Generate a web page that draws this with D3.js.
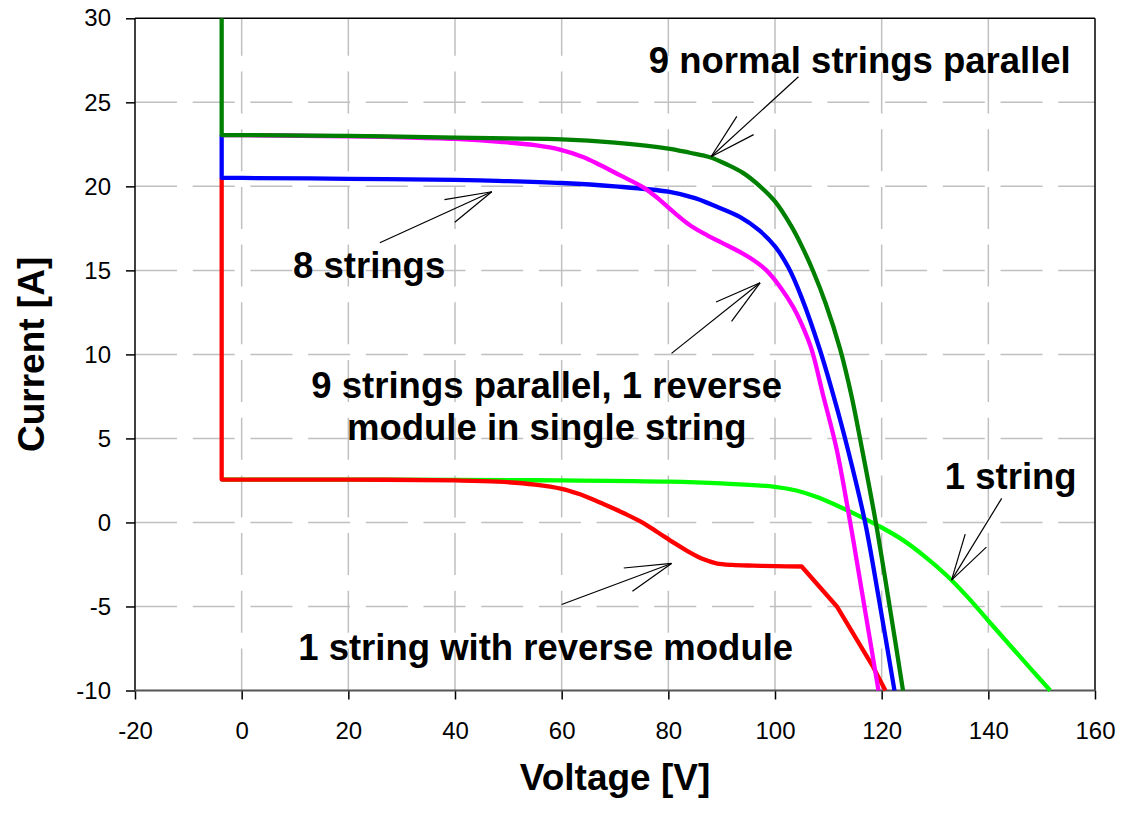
<!DOCTYPE html>
<html lang="en">
<head>
<meta charset="UTF-8">
<title>I-V curves</title>
<script src="https://d3js.org/d3.v7.min.js"></script>
<style>
    body { margin: 0; background: #fff; }
    svg { display: block; font-family: "Liberation Sans", Arial, sans-serif; }
    .tick text { font-size: 24px; fill: #000; }
    .tick line { stroke: #000; stroke-width: 1.5px; }
    .grid line { stroke: #c0c0c0; stroke-width: 1.5px; stroke-dasharray: 42 15.7; }
    .note { font-size: 36.5px; font-weight: bold; fill: #000; }
    .title { font-size: 37px; font-weight: bold; fill: #000; }
    .arrow line { stroke: #000; stroke-width: 1.2px; }
</style>
</head>
<body>
<div id="chart"></div>
<script>
    // axis ticks
    const xTicks = [-20, 0, 20, 40, 60, 80, 100, 120, 140, 160];
    const yTicks = [-10, -5, 0, 5, 10, 15, 20, 25, 30];

    // 1 string (light green)
    const v1String = [-3.75, 0, 20, 40, 60, 80, 90, 100, 104, 108, 112, 116, 120, 124, 128, 132, 136, 140, 145, 151.6];
    const i1String = [2.55, 2.55, 2.55, 2.53, 2.5, 2.43, 2.32, 2.12, 1.9, 1.5, 0.95, 0.35, -0.3, -1.05, -2.0, -3.1, -4.4, -5.85, -7.65, -10];

    // 1 string with reverse module (red)
    const vReverse = [-3.75, -3.75, 0, 20, 40, 48, 55, 60, 63, 66, 69, 72, 75, 78, 81, 84, 86.5, 89, 92, 96, 100, 105, 111.6, 118.4, 120.7];
    const iReverse = [20.5, 2.55, 2.55, 2.55, 2.5, 2.43, 2.25, 2.0, 1.72, 1.35, 0.93, 0.5, 0.02, -0.58, -1.2, -1.78, -2.18, -2.43, -2.53, -2.57, -2.6, -2.62, -5.0, -8.6, -10];

    // 8 strings (blue)
    const v8Strings = [-3.75, -3.75, 0, 20, 40, 48, 60, 70, 80, 85, 89, 93.4, 97, 100, 102.5, 105, 108.4, 111, 113.7, 116.9, 119.5, 122.4];
    const i8Strings = [23.05, 20.5, 20.5, 20.45, 20.38, 20.33, 20.2, 20.0, 19.68, 19.3, 18.8, 18.18, 17.39, 16.43, 15.18, 13.38, 10.29, 7.5, 4.3, 0, -4.6, -10];

    // 9 strings parallel, 1 reverse module in single string (magenta)
    const v9Reverse = [-3.75, 0, 20, 30, 40, 48.4, 55, 60, 64, 67.2, 71, 75.3, 78, 80.9, 84, 87.2, 90, 93.4, 96, 98.4, 101, 103.4, 105, 106.9, 109, 111.6, 114.1, 116.5, 119.4];
    const i9Reverse = [23.05, 23.05, 22.97, 22.92, 22.82, 22.65, 22.45, 22.16, 21.75, 21.27, 20.65, 19.94, 19.3, 18.49, 17.7, 17.1, 16.65, 16.1, 15.6, 15.0, 14.0, 12.83, 11.8, 10.26, 7.6, 4.3, 0, -4.5, -10];

    // 9 normal strings parallel (dark green)
    const v9Normal = [-3.75, -3.75, 0, 20, 40, 50, 60, 70, 80, 84, 87.8, 91, 94, 97.2, 100, 103, 105, 107.2, 109.5, 112.2, 114.3, 116.3, 118.9, 121.5, 124];
    const i9Normal = [30, 23.05, 23.05, 23.0, 22.9, 22.85, 22.8, 22.6, 22.25, 22.0, 21.73, 21.3, 20.8, 20.0, 19.1, 17.66, 16.46, 14.92, 13.03, 10.33, 7.6, 4.4, 0, -5.0, -10];

    const width = 1125, height = 814;
    const svg = d3.select("#chart").append("svg").attr("width", width).attr("height", height);

    const x = d3.scaleLinear().domain([-20, 160]).range([135, 1095]);
    const y = d3.scaleLinear().domain([-10, 30]).range([690.5, 18.3]);

    // dashed grid, drawn left->right and bottom->top
    const grid = svg.append("g").attr("class", "grid");
    grid.selectAll(".gv").data(xTicks.slice(1, -1)).enter().append("line")
        .attr("x1", d => x(d)).attr("x2", d => x(d))
        .attr("y1", y(-10)).attr("y2", y(30));
    grid.selectAll(".gh").data(yTicks.slice(1, -1)).enter().append("line")
        .attr("x1", x(-20)).attr("x2", x(160))
        .attr("y1", d => y(d)).attr("y2", d => y(d));

    // axes
    const xAxis = svg.append("g")
        .attr("transform", `translate(0,${y(-10)})`)
        .call(d3.axisBottom(x).tickValues(xTicks).tickSize(9).tickSizeOuter(0).tickFormat(d => String(d)));
    xAxis.select(".domain").remove();
    xAxis.selectAll(".tick text").attr("y", 31);

    const yAxis = svg.append("g")
        .attr("transform", `translate(${x(-20)},0)`)
        .call(d3.axisLeft(y).tickValues(yTicks).tickSize(9).tickPadding(15).tickSizeOuter(0).tickFormat(d => String(d)));
    yAxis.select(".domain").remove();

    // frame
    svg.append("line").attr("x1", x(-20)).attr("x2", x(160)).attr("y1", y(30)).attr("y2", y(30))
        .attr("stroke", "#000").attr("stroke-width", 1.5);
    svg.append("line").attr("x1", x(160)).attr("x2", x(160)).attr("y1", y(30)).attr("y2", y(-10))
        .attr("stroke", "#000").attr("stroke-width", 1.5);
    svg.append("line").attr("x1", x(-20)).attr("x2", x(-20)).attr("y1", y(30)).attr("y2", y(-10))
        .attr("stroke", "#000").attr("stroke-width", 1.5);
    svg.append("line").attr("x1", x(-20)).attr("x2", x(160)).attr("y1", y(-10)).attr("y2", y(-10))
        .attr("stroke", "#555").attr("stroke-width", 2);

    // curves: straight pieces for the vertical start and the red tail, smooth elsewhere
    const lin = d3.line().x(d => x(d[0])).y(d => y(d[1]));
    const smooth = d3.line().x(d => x(d[0])).y(d => y(d[1])).curve(d3.curveCatmullRom.alpha(0.5));

    function pathOf(vs, is, pieces) {
        const pts = vs.map((v, k) => [v, is[k]]);
        return pieces.map((p, k) => {
            const s = (p[2] === "lin" ? lin : smooth)(pts.slice(p[0], p[1] + 1));
            return k ? s.replace(/^M/, "L") : s;
        }).join("");
    }

    const redKnee = vReverse.indexOf(105);
    const curves = [
        { vs: v1String, is: i1String, color: "#00ff00", pieces: [[0, v1String.length - 1, "s"]] },
        { vs: vReverse, is: iReverse, color: "#ff0000", pieces: [[0, 1, "lin"], [1, redKnee, "s"], [redKnee, vReverse.length - 1, "lin"]] },
        { vs: v8Strings, is: i8Strings, color: "#0000ff", pieces: [[0, 1, "lin"], [1, v8Strings.length - 1, "s"]] },
        { vs: v9Reverse, is: i9Reverse, color: "#ff00ff", pieces: [[0, v9Reverse.length - 1, "s"]] },
        { vs: v9Normal, is: i9Normal, color: "#008000", pieces: [[0, 1, "lin"], [1, v9Normal.length - 1, "s"]] }
    ];

    svg.append("g").selectAll("path").data(curves).enter().append("path")
        .attr("d", d => pathOf(d.vs, d.is, d.pieces))
        .attr("fill", "none")
        .attr("stroke", d => d.color)
        .attr("stroke-width", 4.3)
        .attr("stroke-linejoin", "round");

    // annotation arrows (tail -> tip, in data units)
    const arrows = [
        [104.4, 26.52, 88.0, 21.76],
        [25.9, 16.64, 46.9, 19.68],
        [80.6, 10.06, 97.2, 14.26],
        [142.5, 1.43, 133.1, -3.43],
        [60.0, -4.88, 80.6, -2.44]
    ];
    const ag = svg.append("g").attr("class", "arrow");
    arrows.forEach(a => {
        const tx = x(a[0]), ty = y(a[1]), hx = x(a[2]), hy = y(a[3]);
        const ang = Math.atan2(ty - hy, tx - hx);
        ag.append("line").attr("x1", tx).attr("y1", ty).attr("x2", hx).attr("y2", hy);
        [-1, 1].forEach(s => {
            const b = ang + s * 15 * Math.PI / 180;
            ag.append("line").attr("x1", hx).attr("y1", hy)
                .attr("x2", hx + 48 * Math.cos(b)).attr("y2", hy + 48 * Math.sin(b));
        });
    });

    // labels
    const notes = [
        ["9 normal strings parallel", 115.9, 26.76],
        ["8 strings", 23.9, 14.54],
        ["9 strings parallel, 1 reverse", 57.2, 7.40],
        ["module in single string", 57.2, 4.90],
        ["1 string", 144.2, 2.02],
        ["1 string with reverse module", 57.0, -8.20]
    ];
    svg.append("g").selectAll("text").data(notes).enter().append("text")
        .attr("class", "note")
        .attr("x", d => x(d[1])).attr("y", d => y(d[2]))
        .attr("text-anchor", "middle")
        .text(d => d[0]);

    svg.append("text").attr("class", "title")
        .attr("x", (x(-20) + x(160)) / 2).attr("y", 790)
        .attr("text-anchor", "middle").text("Voltage [V]");
    svg.append("text").attr("class", "title")
        .attr("transform", `translate(44,${(y(30) + y(-10)) / 2}) rotate(-90)`)
        .attr("text-anchor", "middle").text("Current [A]");
</script>
</body>
</html>
